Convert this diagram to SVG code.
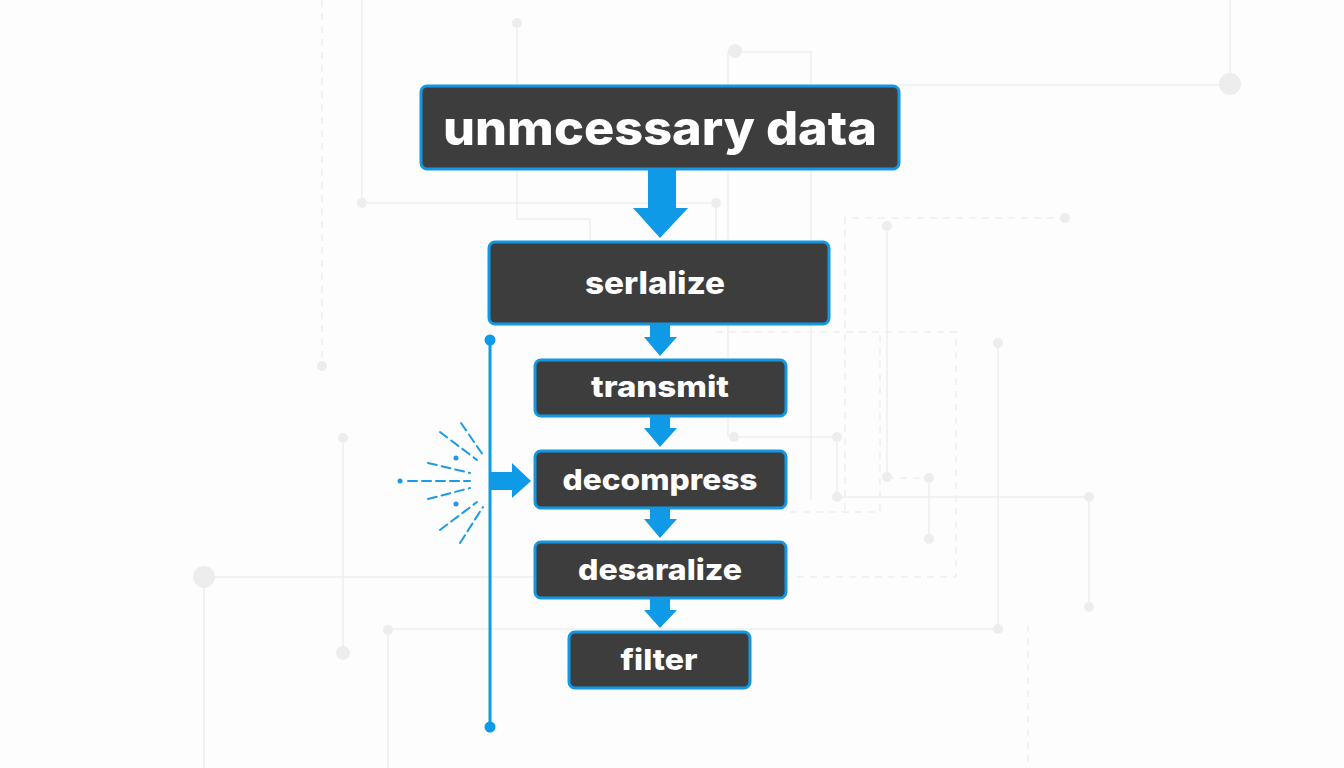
<svg xmlns="http://www.w3.org/2000/svg" width="1344" height="768" viewBox="0 0 1344 768">
<defs>
<style>
.bg{stroke:#eeeeee;stroke-width:1.5;fill:none}
.bgd{stroke:#eeeeee;stroke-width:1.5;fill:none;stroke-dasharray:7 6}
.bgdot{fill:#ededed}
.box{fill:#3d3d3d;stroke:#1497e3;stroke-width:3}
.lbl{fill:#ffffff;font-family:Inter,"Open Sans","DejaVu Sans",sans-serif;font-weight:800;text-anchor:middle}
.arr{fill:#0f9ae8}
.ray{stroke:#1a9be6;stroke-width:2;fill:none;stroke-dasharray:9 5;stroke-linecap:round}
</style>
</defs>
<rect width="1344" height="768" fill="#fdfdfd"/>
<g id="background">
<path class="bgd" d="M322 0V366"/>
<circle class="bgdot" cx="322" cy="366" r="5"/>
<path class="bg" d="M362 0V203H716V245"/>
<circle class="bgdot" cx="362" cy="203" r="5"/>
<circle class="bgdot" cx="716" cy="203" r="5"/>
<path class="bg" d="M517 23V219H590V240"/>
<circle class="bgdot" cx="517" cy="23" r="5"/>
<path class="bg" d="M728 52H811V500M728 52V437"/>
<circle class="bgdot" cx="735" cy="51" r="7"/>
<path class="bg" d="M900 85H1230V0"/>
<circle class="bgdot" cx="1230" cy="84" r="11"/>
<path class="bgd" d="M845 510V218H1065"/>
<circle class="bgdot" cx="1065" cy="218" r="5"/>
<path class="bg" d="M887 226V477"/>
<circle class="bgdot" cx="887" cy="226" r="5"/>
<path class="bgd" d="M716 332H956V577H790"/>
<path class="bg" d="M734 437H837V497H1089V607"/>
<circle class="bgdot" cx="734" cy="437" r="5"/>
<circle class="bgdot" cx="837" cy="437" r="5"/>
<circle class="bgdot" cx="837" cy="497" r="5"/>
<circle class="bgdot" cx="1089" cy="497" r="5"/>
<circle class="bgdot" cx="1089" cy="607" r="5"/>
<circle class="bgdot" cx="887" cy="477" r="5"/>
<path class="bgd" d="M887 478H929"/>
<path class="bg" d="M929 478V539"/>
<circle class="bgdot" cx="929" cy="478" r="5"/>
<circle class="bgdot" cx="929" cy="539" r="5"/>
<path class="bgd" d="M790 512H880V332"/>
<path class="bg" d="M998 343V629H388V768"/>
<circle class="bgdot" cx="998" cy="343" r="5"/>
<circle class="bgdot" cx="998" cy="629" r="5"/>
<circle class="bgdot" cx="388" cy="630" r="5"/>
<path class="bgd" d="M1028 625V768"/>
<path class="bg" d="M535 577H204V768"/>
<circle class="bgdot" cx="204" cy="577" r="11"/>
<path class="bg" d="M343 438V653"/>
<circle class="bgdot" cx="343" cy="438" r="5"/>
<circle class="bgdot" cx="343" cy="653" r="7"/>
</g>
<g id="connectors">
<polygon class="arr" points="648,169 676,169 676,208 688,208 660,238 633,208 648,208"/>
<polygon class="arr" points="650,324 670,324 670,337 677,337 660,356 644,337 650,337"/>
<polygon class="arr" points="650,416 670,416 670,428 677,428 660,447 644,428 650,428"/>
<polygon class="arr" points="650,508 670,508 670,519 677,519 660,538 644,519 650,519"/>
<polygon class="arr" points="650,598 670,598 670,610 677,610 660,628 644,610 650,610"/>
<path d="M490 340V727" stroke="#0f9ae8" stroke-width="3"/>
<circle cx="490" cy="340" r="5.5" fill="#0f9ae8"/>
<circle cx="490" cy="727" r="5.5" fill="#0f9ae8"/>
<polygon class="arr" points="490,472 512,472 512,463 531,481 512,498 512,490 490,490"/>
</g>
<g id="burst">
<path class="ray" d="M408 481H470"/>
<circle cx="400" cy="481" r="2.5" fill="#1a9be6"/>
<circle cx="456" cy="458" r="2.5" fill="#1a9be6"/>
<circle cx="456" cy="504" r="2.5" fill="#1a9be6"/>
<path class="ray" d="M461 423L483 455"/>
<path class="ray" d="M440 432L477 460"/>
<path class="ray" d="M428 463L470 473"/>
<path class="ray" d="M428 499L470 488"/>
<path class="ray" d="M440 530L477 502"/>
<path class="ray" d="M460 543L483 507"/>
</g>
<g id="node-unnecessary">
<rect class="box" x="421" y="86" width="478" height="83" rx="6"/>
<text class="lbl" x="660" y="145" font-size="47" textLength="434" lengthAdjust="spacingAndGlyphs">unmcessary data</text>
</g>
<g id="node-serialize">
<rect class="box" x="489" y="242" width="340" height="82" rx="6"/>
<text class="lbl" x="655" y="294" font-size="31" textLength="140" lengthAdjust="spacingAndGlyphs">serlalize</text>
</g>
<g id="node-transmit">
<rect class="box" x="535" y="360" width="251" height="56" rx="6"/>
<text class="lbl" x="660" y="397" font-size="29" textLength="138" lengthAdjust="spacingAndGlyphs">transmit</text>
</g>
<g id="node-decompress">
<rect class="box" x="535" y="451" width="251" height="57" rx="6"/>
<text class="lbl" x="660" y="490" font-size="29" textLength="195" lengthAdjust="spacingAndGlyphs">decompress</text>
</g>
<g id="node-deserialize">
<rect class="box" x="535" y="542" width="251" height="56" rx="6"/>
<text class="lbl" x="660" y="580" font-size="29" textLength="164" lengthAdjust="spacingAndGlyphs">desaralize</text>
</g>
<g id="node-filter">
<rect class="box" x="569" y="632" width="181" height="56" rx="6"/>
<text class="lbl" x="659" y="670" font-size="29" textLength="77" lengthAdjust="spacingAndGlyphs">filter</text>
</g>
</svg>
